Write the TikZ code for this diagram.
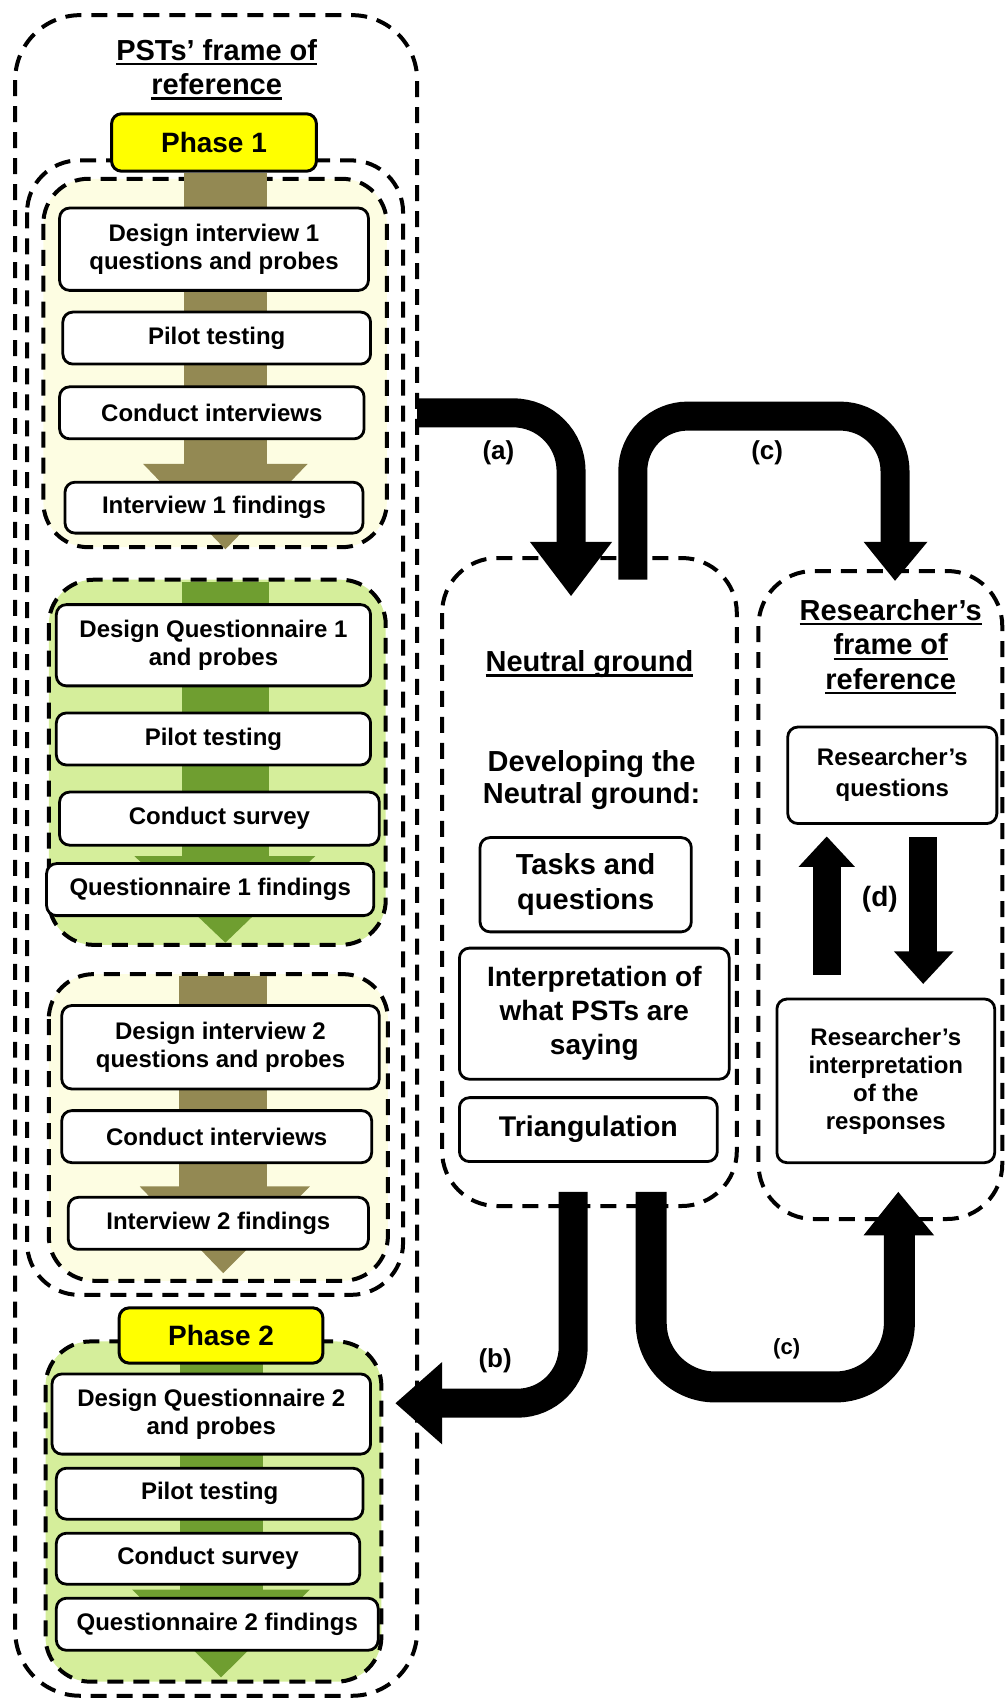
\documentclass[tikz,border=0pt]{standalone}
\usepackage{fontspec}
\setmainfont{Liberation Sans}
\newcommand\ulx[1]{\setbox0\hbox{#1}\rlap{\rule[-5pt]{\wd0}{2.2pt}}\box0}
\usetikzlibrary{fit}
\definecolor{cream}{HTML}{FDFDE2}
\definecolor{lgreen}{HTML}{D5EE9B}
\definecolor{olivearr}{HTML}{938953}
\definecolor{greenarr}{HTML}{6F9E30}
\definecolor{phaseyel}{HTML}{FFFF00}
\tikzset{
  dbox/.style={draw, line width=4pt, dash pattern=on 16pt off 10pt},
  wbox/.style={draw, line width=2.8pt, fill=white, rounded corners=10pt, inner sep=0pt},
  wt/.style={align=center, inner sep=0pt, font=\fontsize{24}{28}\selectfont\bfseries},
  rt/.style={align=center, inner sep=0pt, font=\fontsize{28.5}{34}\selectfont\bfseries},
  phasebox/.style={draw, line width=3pt, fill=phaseyel, rounded corners=10pt, inner sep=0pt},
  pt/.style={inner sep=0pt, font=\fontsize{28}{32}\selectfont\bfseries},
  ttl/.style={align=center, inner sep=0pt, font=\fontsize{29}{34.5}\selectfont\bfseries},
  lbl/.style={inner sep=0pt, font=\fontsize{26}{30}\selectfont\bfseries},
  bigline/.style={line width=29pt, black},
}
\begin{document}
\begin{tikzpicture}[x=1.084pt,y=-1.084pt]
\useasboundingbox (0,0) rectangle (928,1568);
% ---------- left frame ----------
\draw[dbox, rounded corners=65pt] (14,14) rectangle (385,1565);
\node[ttl] (pst) at (200,64) {\ulx{PSTs’ frame of}\\\ulx{reference}};
\draw[dbox, rounded corners=52pt] (25,148) rectangle (372,1195);
% interview 1 group
\filldraw[dbox, fill=cream, rounded corners=45pt] (40,165) rectangle (357,505);
\fill[olivearr] (170,160) rectangle (246,430);
\fill[olivearr] (132,428) -- (284,428) -- (208,507) -- cycle;
\node[wbox, fit={(55,192)(340,268)}, label={[wt]center:Design interview 1\\questions and probes}] (d1) {};
\node[wbox, fit={(58,288)(342,336)}, label={[wt]center:Pilot testing}] (p1) {};
\node[wbox, fit={(55,357)(336,405)}, label={[wt]center:Conduct interviews}] (c1) {};
\node[wbox, fit={(60,445)(335,492)}, label={[wt]center:Interview 1 findings}] (f1) {};
% questionnaire 1 group
\filldraw[dbox, fill=lgreen, rounded corners=45pt] (45,535) rectangle (356,872);
\fill[greenarr] (168,537) rectangle (248,795);
\fill[greenarr] (124,790) -- (291,790) -- (208,870) -- cycle;
\node[wbox, fit={(52,558)(342,633)}, label={[wt]center:Design Questionnaire 1\\and probes}] (d2) {};
\node[wbox, fit={(52,658)(342,706)}, label={[wt]center:Pilot testing}] (p2) {};
\node[wbox, fit={(55,731)(350,780)}, label={[wt]center:Conduct survey}] (c2) {};
\node[wbox, fit={(43,797)(345,845)}, label={[wt]center:Questionnaire 1 findings}] (f2) {};
% interview 2 group
\filldraw[dbox, fill=cream, rounded corners=45pt] (45,899) rectangle (358,1182);
\fill[olivearr] (165,901) rectangle (246,1100);
\fill[olivearr] (129,1095) -- (286,1095) -- (206,1175) -- cycle;
\node[wbox, fit={(57,928)(350,1005)}, label={[wt]center:Design interview 2\\questions and probes}] (d3) {};
\node[wbox, fit={(57,1025)(343,1073)}, label={[wt]center:Conduct interviews}] (c3) {};
\node[wbox, fit={(63,1105)(340,1153)}, label={[wt]center:Interview 2 findings}] (f3) {};
% phase 2 / questionnaire 2 group
\filldraw[dbox, fill=lgreen, rounded corners=45pt] (42,1238) rectangle (352,1552);
\fill[greenarr] (166,1255) rectangle (243,1470);
\fill[greenarr] (122,1467) -- (286,1467) -- (204,1548) -- cycle;
\node[wbox, fit={(48,1268)(342,1342)}, label={[wt]center:Design Questionnaire 2\\and probes}] (d4) {};
\node[wbox, fit={(52,1355)(335,1402)}, label={[wt]center:Pilot testing}] (p4) {};
\node[wbox, fit={(52,1415)(332,1462)}, label={[wt]center:Conduct survey}] (c4) {};
\node[wbox, fit={(52,1475)(349,1523)}, label={[wt]center:Questionnaire 2 findings}] (f4) {};
% phases
\node[phasebox, fit={(103,105)(292,158)}, label={[pt]center:Phase 1}] (ph1) {};
\node[phasebox, fit={(110,1207)(298,1258)}, label={[pt]center:Phase 2}] (ph2) {};
% ---------- neutral ground ----------
\draw[dbox, rounded corners=55pt] (408,515) rectangle (680,1113);
\node[ttl] (ng) at (544,613) {\ulx{Neutral ground}};
\node[ttl, font=\fontsize{29}{32.5}\selectfont\bfseries] (dev) at (546,720) {Developing the\\Neutral ground:};
\node[wbox, fit={(443,773)(638,860)}, label={[rt, font=\fontsize{29}{35}\selectfont\bfseries]center:Tasks and\\questions}] (tq) {};
\node[wbox, fit={(424,875)(673,996)}, label={[rt, font=\fontsize{28}{34}\selectfont\bfseries]center:Interpretation of\\what PSTs are\\saying}] (ip) {};
\node[wbox, fit={(424,1013)(662,1072)}, label={[rt]center:Triangulation}] (tr) {};
% ---------- researcher frame ----------
\draw[dbox, rounded corners=55pt] (700,527) rectangle (925,1125);
\node[ttl] (rf) at (822,597) {\ulx{Researcher’s}\\\ulx{frame of}\\\ulx{reference}};
\node[wbox, fit={(727,671)(920,760)}, label={[wt, font=\fontsize{24}{31}\selectfont\bfseries]center:Researcher’s\\questions}] (rq) {};
\node[wbox, fit={(717,922)(918,1073)}, label={[wt]center:Researcher’s\\interpretation\\of the\\responses}] (ri) {};
% (d) arrows
\fill (750,900) rectangle (776,798);
\fill (737,800) -- (789,800) -- (763,772) -- cycle;
\fill (839,772) rectangle (865,880);
\fill (825,878) -- (880,878) -- (852,908) -- cycle;
\node[lbl, font=\fontsize{28}{30}\selectfont\bfseries] (ld) at (812,830) {(d)};
% ---------- big arrows ----------
\coordinate (a0) at (385,381);
\coordinate (a1) at (527,502);
\draw[bigline, rounded corners=58pt] (a0) -| (a1);
\fill (489,500) -- (565,500) -- (527,550) -- cycle;
\node[lbl] (la) at (460,418) {(a)};
\coordinate (c0) at (584,535);
\coordinate (c1) at (826,502);
\draw[bigline, rounded corners=55pt] (c0) -- (584,384) -- (826,384) -- (c1);
\fill (797,500) -- (856,500) -- (826,536) -- cycle;
\node[lbl] (lc) at (708,418) {(c)};
\coordinate (b0) at (529,1100);
\coordinate (b1) at (406,1295);
\draw[bigline, rounded corners=56pt] (b0) |- (b1);
\fill (408,1257) -- (408,1333) -- (365,1295) -- cycle;
\node[lbl] (lb) at (457,1256) {(b)};
\coordinate (e0) at (601,1100);
\coordinate (e1) at (830,1138);
\draw[bigline, line width=31pt, rounded corners=64pt] (e0) -- (601,1280) -- (830,1280) -- (e1);
\fill (797,1140) -- (862,1140) -- (829,1100) -- cycle;
\node[lbl, font=\fontsize{22}{26}\selectfont\bfseries] (lc2) at (726,1245) {(c)};
\end{tikzpicture}
\end{document}
